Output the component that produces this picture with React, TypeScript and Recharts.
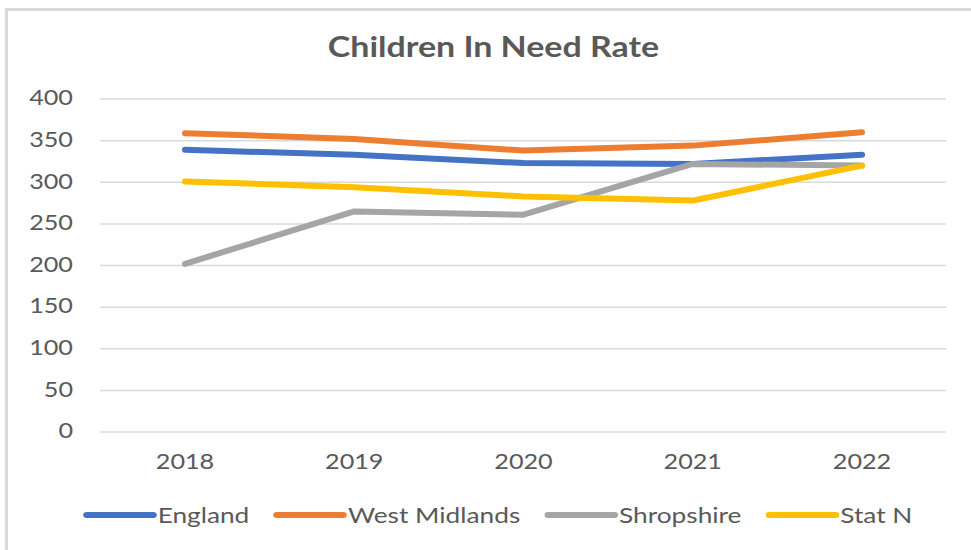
import React from "react";
import { LineChart, Line, XAxis, YAxis, CartesianGrid, Legend } from "recharts";

const years = ["2018", "2019", "2020", "2021", "2022"];
const england = [339, 333, 323, 322, 333];
const westMidlands = [359, 352, 338, 344, 360];
const shropshire = [202, 265, 261, 322, 320];
const statN = [301, 294, 283, 278, 320];
const yTicks = [0, 50, 100, 150, 200, 250, 300, 350, 400];

const SERIES = [
  { key: "england", name: "England", color: "#4472C4" },
  { key: "westMidlands", name: "West Midlands", color: "#ED7D31" },
  { key: "shropshire", name: "Shropshire", color: "#A5A5A5" },
  { key: "statN", name: "Stat N", color: "#FFC000" },
];

const FONT = "Lato, 'Open Sans', sans-serif";
const TEXT = "#595959";
// the reference text is a bit stretched sideways
const STRETCH = 1.2;

const data = years.map((year, i) => ({
  year,
  england: england[i],
  westMidlands: westMidlands[i],
  shropshire: shropshire[i],
  statN: statN[i],
}));

const XTick = (props: any) => {
  const { x, y, payload } = props;
  return (
    <text
      transform={`translate(${x},${y}) scale(${STRETCH},1)`}
      textAnchor="middle"
      dy="0.71em"
      fill={TEXT}
      fontSize={21}
      fontFamily={FONT}
    >
      {payload.value}
    </text>
  );
};

const YTick = (props: any) => {
  const { x, y, payload } = props;
  return (
    <text
      transform={`translate(${x},${y}) scale(${STRETCH},1)`}
      textAnchor="end"
      dy="0.3em"
      fill={TEXT}
      fontSize={21}
      fontFamily={FONT}
    >
      {payload.value}
    </text>
  );
};

const LegendContent = () => (
  <div
    style={{
      display: "flex",
      justifyContent: "center",
      fontFamily: FONT,
      transform: "scaleX(1.25)",
      transformOrigin: "center",
    }}
  >
    {SERIES.map((s, i) => (
      <div
        key={s.key}
        style={{ display: "flex", alignItems: "center", marginLeft: i === 0 ? 0 : 19 }}
      >
        <svg width={59} height={10}>
          <line x1={3} y1={5} x2={56} y2={5} stroke={s.color} strokeWidth={6} strokeLinecap="round" />
        </svg>
        <span style={{ fontSize: 21, color: TEXT, marginLeft: 1 }}>{s.name}</span>
      </div>
    ))}
  </div>
);

const App: React.FC = () => {
  return (
    <div style={{ position: "absolute", left: 0, top: 0, width: 971, height: 550, background: "#fff", overflow: "hidden" }}>
      <div
        style={{
          position: "absolute",
          left: 5,
          top: 8,
          width: 1000,
          height: 600,
          border: "3px solid #d9d9d9",
          boxSizing: "border-box",
        }}
      />
      <div
        style={{
          position: "absolute",
          left: 0,
          top: 28,
          width: 987,
          textAlign: "center",
          fontFamily: FONT,
          fontSize: 29,
          fontWeight: "bold",
          color: TEXT,
          transform: "scaleX(1.17)",
          transformOrigin: "center",
        }}
      >
        Children In Need Rate
      </div>
      <div style={{ position: "absolute", left: 0, top: 0 }}>
        <LineChart width={971} height={550} data={data} margin={{ top: 99, right: 25, left: 0, bottom: 78 }}>
          <CartesianGrid vertical={false} stroke="#d9d9d9" strokeWidth={1.5} />
          <XAxis
            dataKey="year"
            axisLine={false}
            tickLine={false}
            tickSize={0}
            tickMargin={22}
            padding={{ left: 85, right: 84 }}
            tick={<XTick />}
            height={40}
          />
          <YAxis
            domain={[0, 400]}
            ticks={yTicks}
            interval={0}
            axisLine={false}
            tickLine={false}
            tickSize={0}
            tickMargin={27}
            width={100}
            tick={<YTick />}
          />
          {SERIES.map((s) => (
            <Line
              key={s.key}
              dataKey={s.key}
              name={s.name}
              stroke={s.color}
              strokeWidth={6}
              strokeLinecap="round"
              strokeLinejoin="round"
              dot={false}
              activeDot={false}
              isAnimationActive={false}
            />
          ))}
          <Legend
            verticalAlign="middle"
            align="center"
            content={<LegendContent />}
            wrapperStyle={{ top: 502, left: 0, width: 995 }}
          />
        </LineChart>
      </div>
    </div>
  );
};

export default App;
